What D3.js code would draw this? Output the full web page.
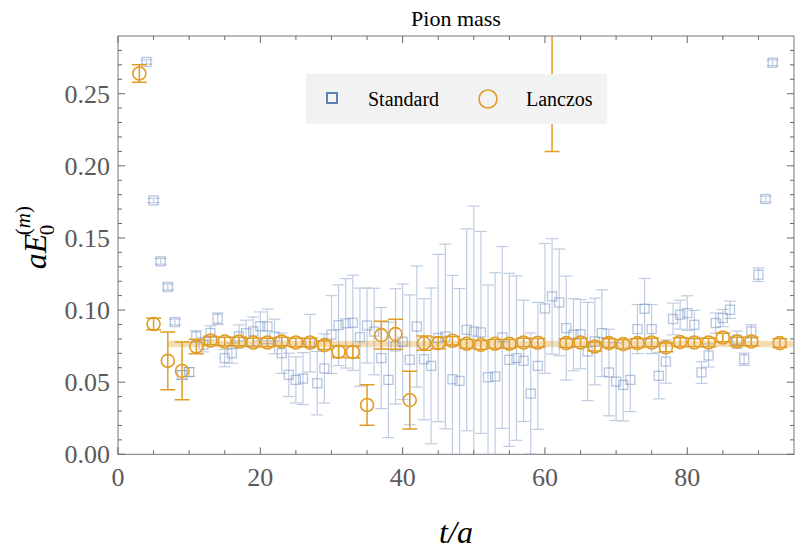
<!DOCTYPE html>
<meta charset="utf-8">
<script src="https://d3js.org/d3.v7.min.js"></script>
<style type="text/css">
    body {
        margin: 0;
        padding: 0;
        background: #fff;
    }

    svg {
        font-family: "Liberation Serif", serif;
    }

    .tick-label {
        fill: #5a5a5a;
        font-size: 26px;
    }
</style>

<body>
</body>

<script>

// Standard estimator: t, value, error
var stdT = [4, 5, 6, 7, 8, 9, 10, 11, 12, 13, 14, 15, 16, 17, 18, 19, 20, 21, 22, 23,
    24, 25, 26, 27, 28, 29, 30, 31, 32, 33, 34, 35, 36, 37, 38, 39, 40, 41, 42, 43,
    44, 45, 46, 47, 48, 49, 50, 51, 52, 53, 54, 55, 56, 57, 58, 59, 60, 61, 62, 63,
    64, 65, 66, 67, 68, 69, 70, 71, 72, 73, 74, 75, 76, 77, 78, 79, 80, 81, 82, 83,
    84, 85, 86, 87, 88, 89, 90, 91, 92];
var stdVal = [0.272, 0.176, 0.1338, 0.116, 0.0917, 0.055, 0.057, 0.0817, 0.076, 0.0841,
    0.094, 0.0667, 0.0701, 0.0817, 0.084, 0.0852, 0.0887, 0.0887, 0.0817, 0.0701,
    0.0551, 0.0516, 0.0525, 0.077, 0.0493, 0.0595, 0.083, 0.0895, 0.0908, 0.0912,
    0.0812, 0.0893, 0.0851, 0.0667, 0.0516, 0.0748, 0.078, 0.0655, 0.0886, 0.0659,
    0.0613, 0.0806, 0.0817, 0.052, 0.0509, 0.0863, 0.0851, 0.0845, 0.0534, 0.0539,
    0.081, 0.0655, 0.0667, 0.0648, 0.0421, 0.0613, 0.1011, 0.1095, 0.1053, 0.0875,
    0.0829, 0.0833, 0.0713, 0.0782, 0.084, 0.0567, 0.0504, 0.0481, 0.0516, 0.0868,
    0.1009, 0.0868, 0.0544, 0.0643, 0.0938, 0.0968, 0.0979, 0.0898, 0.0567, 0.0685,
    0.091, 0.0945, 0.1002, 0.0794, 0.0659, 0.0852, 0.1245, 0.177, 0.2715];
var stdErr = [0.0015, 0.0015, 0.002, 0.002, 0.002, 0.003, 0.003, 0.004, 0.005, 0.005,
    0.004, 0.006, 0.007, 0.008, 0.009, 0.01, 0.01, 0.012, 0.012, 0.014,
    0.015, 0.016, 0.018, 0.02, 0.022, 0.024, 0.027, 0.028, 0.031, 0.033,
    0.034, 0.026, 0.03, 0.035, 0.04, 0.04, 0.04, 0.045, 0.042, 0.042,
    0.054, 0.058, 0.064, 0.072, 0.064, 0.07, 0.087, 0.07, 0.064, 0.072,
    0.063, 0.06, 0.057, 0.042, 0.042, 0.044, 0.045, 0.04, 0.037, 0.036,
    0.025, 0.024, 0.034, 0.03, 0.03, 0.03, 0.027, 0.025, 0.022, 0.017,
    0.021, 0.017, 0.016, 0.015, 0.011, 0.01, 0.012, 0.01, 0.0075, 0.008,
    0.007, 0.006, 0.006, 0.006, 0.0043, 0.0046, 0.0047, 0.002, 0.002];

// Lanczos estimator: t, value, error
var lanT = [3, 5, 7, 9, 11, 13, 15, 17, 19, 21, 23, 25, 27, 29, 31, 33, 35, 37, 39, 41,
    43, 45, 47, 49, 51, 53, 55, 57, 59, 61, 63, 65, 67, 69, 71, 73, 75, 77, 79, 81,
    83, 85, 87, 89, 93];
var lanVal = [0.264, 0.0903, 0.0648, 0.0578, 0.0747, 0.0789, 0.0782, 0.0782, 0.0775, 0.0775,
    0.0782, 0.0775, 0.0775, 0.0757, 0.0711, 0.0709, 0.0342, 0.0826, 0.0833, 0.0375,
    0.0771, 0.0771, 0.0787, 0.0766, 0.0759, 0.0766, 0.0766, 0.0775, 0.0773, 0.36,
    0.0771, 0.0775, 0.0747, 0.0771, 0.0764, 0.0771, 0.0775, 0.0741, 0.0778, 0.0775,
    0.0775, 0.081, 0.0782, 0.0782, 0.0771];
var lanErr = [0.006, 0.004, 0.02, 0.02, 0.005, 0.003, 0.003, 0.003, 0.003, 0.003,
    0.003, 0.003, 0.003, 0.003, 0.004, 0.004, 0.014, 0.0096, 0.0104, 0.02,
    0.005, 0.004, 0.003, 0.003, 0.003, 0.003, 0.003, 0.003, 0.003, 0.15,
    0.003, 0.003, 0.003, 0.003, 0.003, 0.003, 0.003, 0.003, 0.003, 0.003,
    0.003, 0.003, 0.003, 0.003, 0.003];

// fitted plateau band
var fitRange = [7, 95];
var fitVal = 0.0765;
var fitErr = 0.0022;

var xTicks = [0, 20, 40, 60, 80];
var yTicks = [0, 0.05, 0.10, 0.15, 0.20, 0.25];
var seriesNames = ["Standard", "Lanczos"];

var blue = "#5E81B5";
var orange = "#E19C24";

var width = 797;
var height = 555;

var x = d3.scaleLinear().domain([0, 95]).range([118, 794]);
var y = d3.scaleLinear().domain([0, 0.29]).range([454.3, 36]);

var stdData = stdT.map(function (t, i) { return {t: t, v: stdVal[i], e: stdErr[i]}; });
var lanData = lanT.map(function (t, i) { return {t: t, v: lanVal[i], e: lanErr[i]}; });

var svg = d3.select("body")
    .append("svg")
    .attr("width", width)
    .attr("height", height);

svg.append("defs").append("clipPath")
    .attr("id", "plot-clip")
    .append("rect")
    .attr("x", x(0))
    .attr("y", y(0.29))
    .attr("width", x(95) - x(0))
    .attr("height", y(0) - y(0.29));

var plot = svg.append("g").attr("clip-path", "url(#plot-clip)");

// plateau band
plot.append("rect")
    .attr("x", x(fitRange[0]))
    .attr("y", y(fitVal + fitErr))
    .attr("width", x(fitRange[1]) - x(fitRange[0]))
    .attr("height", y(fitVal - fitErr) - y(fitVal + fitErr))
    .attr("fill", orange)
    .attr("opacity", 0.35);

// error bars with caps
function errorBars(g, data, color, cap, opacity, sw) {
    var bars = g.append("g")
        .attr("stroke", color)
        .attr("stroke-width", sw)
        .attr("opacity", opacity)
        .selectAll("g")
        .data(data)
        .join("g");
    bars.append("line")
        .attr("x1", function (d) { return x(d.t); })
        .attr("x2", function (d) { return x(d.t); })
        .attr("y1", function (d) { return y(d.v - d.e); })
        .attr("y2", function (d) { return y(d.v + d.e); });
    bars.append("line")
        .attr("x1", function (d) { return x(d.t) - cap; })
        .attr("x2", function (d) { return x(d.t) + cap; })
        .attr("y1", function (d) { return y(d.v + d.e); })
        .attr("y2", function (d) { return y(d.v + d.e); });
    bars.append("line")
        .attr("x1", function (d) { return x(d.t) - cap; })
        .attr("x2", function (d) { return x(d.t) + cap; })
        .attr("y1", function (d) { return y(d.v - d.e); })
        .attr("y2", function (d) { return y(d.v - d.e); });
}

errorBars(plot, stdData, blue, 6, 0.4, 1.2);

plot.append("g")
    .selectAll("rect")
    .data(stdData)
    .join("rect")
    .attr("x", function (d) { return x(d.t) - 4.5; })
    .attr("y", function (d) { return y(d.v) - 4.5; })
    .attr("width", 9)
    .attr("height", 9)
    .attr("fill", "none")
    .attr("stroke", blue)
    .attr("stroke-width", 1.3)
    .attr("opacity", 0.45);

errorBars(plot, lanData, orange, 7.5, 1, 1.5);

plot.append("g")
    .selectAll("circle")
    .data(lanData)
    .join("circle")
    .attr("cx", function (d) { return x(d.t); })
    .attr("cy", function (d) { return y(d.v); })
    .attr("r", 6.5)
    .attr("fill", "none")
    .attr("stroke", orange)
    .attr("stroke-width", 1.6);

// frame with inward ticks
var frame = svg.append("g")
    .attr("stroke", "#666")
    .attr("stroke-width", 1);

frame.append("rect")
    .attr("x", x(0))
    .attr("y", y(0.29))
    .attr("width", x(95) - x(0))
    .attr("height", y(0) - y(0.29))
    .attr("fill", "none")
    .attr("stroke", "#777");

var xMinor = d3.range(0, 95, 5);
var yMinor = d3.range(0, 0.29, 0.01);

xMinor.forEach(function (t) {
    var len = (t % 20 === 0) ? 7 : 4;
    frame.append("line").attr("x1", x(t)).attr("x2", x(t))
        .attr("y1", y(0)).attr("y2", y(0) - len);
    frame.append("line").attr("x1", x(t)).attr("x2", x(t))
        .attr("y1", y(0.29)).attr("y2", y(0.29) + len);
});

yMinor.forEach(function (v, i) {
    var len = (i % 5 === 0) ? 7 : 4;
    frame.append("line").attr("x1", x(0)).attr("x2", x(0) + len)
        .attr("y1", y(v)).attr("y2", y(v));
    frame.append("line").attr("x1", x(95)).attr("x2", x(95) - len)
        .attr("y1", y(v)).attr("y2", y(v));
});

svg.append("g")
    .selectAll("text")
    .data(xTicks)
    .join("text")
    .attr("class", "tick-label")
    .attr("x", function (d) { return x(d); })
    .attr("y", y(0) + 32)
    .attr("text-anchor", "middle")
    .text(function (d) { return d; });

svg.append("g")
    .selectAll("text")
    .data(yTicks)
    .join("text")
    .attr("class", "tick-label")
    .attr("x", x(0) - 8)
    .attr("y", function (d) { return y(d) + 9; })
    .attr("text-anchor", "end")
    .text(function (d) { return d3.format(".2f")(d); });

// title and axis labels
svg.append("text")
    .attr("x", (x(0) + x(95)) / 2)
    .attr("y", 26)
    .attr("text-anchor", "middle")
    .attr("font-size", 22)
    .text("Pion mass");

svg.append("text")
    .attr("x", (x(0) + x(95)) / 2)
    .attr("y", 543)
    .attr("text-anchor", "middle")
    .attr("font-size", 32)
    .attr("font-style", "italic")
    .text("t/a");

var yl = svg.append("g")
    .attr("transform", "translate(46," + ((y(0) + y(0.29)) / 2) + ") rotate(-90)");
yl.append("text")
    .attr("x", -24)
    .attr("y", 0)
    .attr("font-size", 32)
    .attr("font-style", "italic")
    .text("aE");
yl.append("text")
    .attr("x", 10)
    .attr("y", 8)
    .attr("font-size", 21)
    .text("0");
yl.append("text")
    .attr("x", 10)
    .attr("y", -16)
    .attr("font-size", 21)
    .html("(<tspan font-style='italic'>m</tspan>)");

// legend
var legend = svg.append("g");
legend.append("rect")
    .attr("x", 306)
    .attr("y", 74)
    .attr("width", 301)
    .attr("height", 50)
    .attr("fill", "#f2f2f2");
legend.append("rect")
    .attr("x", 327)
    .attr("y", 93)
    .attr("width", 10)
    .attr("height", 10)
    .attr("fill", "none")
    .attr("stroke", blue)
    .attr("stroke-width", 2);
legend.append("text")
    .attr("x", 368)
    .attr("y", 106)
    .attr("font-size", 20)
    .text(seriesNames[0]);
legend.append("circle")
    .attr("cx", 488)
    .attr("cy", 99)
    .attr("r", 9)
    .attr("fill", "none")
    .attr("stroke", orange)
    .attr("stroke-width", 1.6);
legend.append("text")
    .attr("x", 526)
    .attr("y", 106)
    .attr("font-size", 20)
    .text(seriesNames[1]);

</script>
